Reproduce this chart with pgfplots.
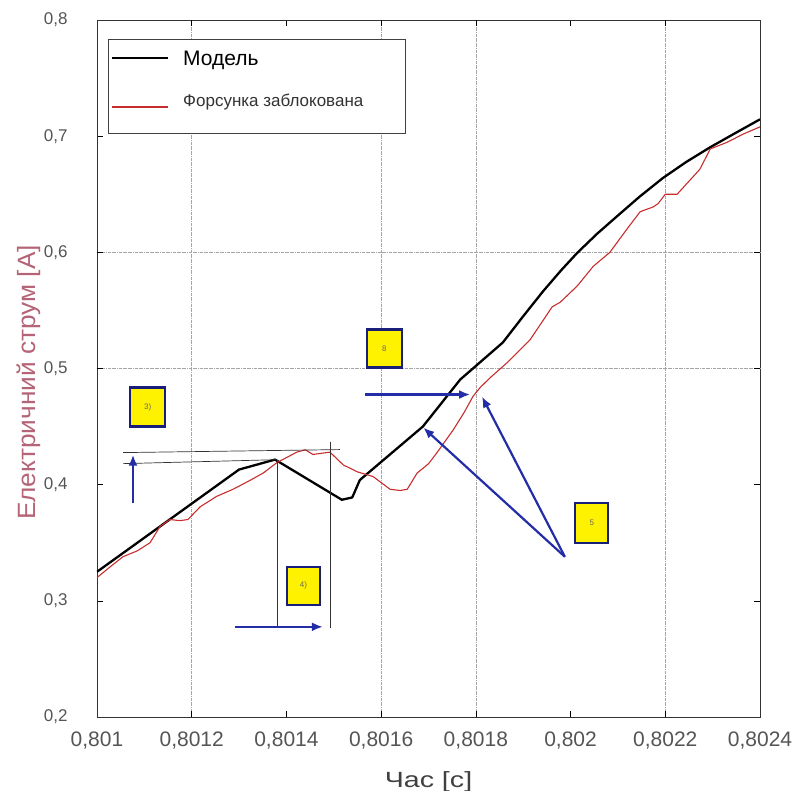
\documentclass[border=0pt]{standalone}
\usepackage{pgfplots}
\pgfplotsset{compat=1.18}
\usepackage{fontspec}
\setmainfont{Liberation Sans}
\newfontfamily\widefont[FakeStretch=1.3]{Liberation Sans}
\newfontfamily\ylabfont[FakeStretch=1.05]{Liberation Sans}
\usetikzlibrary{arrows.meta}
\definecolor{redline}{RGB}{200,45,45}
\definecolor{ylab}{RGB}{180,100,118}
\definecolor{ticklab}{RGB}{85,85,85}
\definecolor{navyarrow}{RGB}{35,45,165}
\definecolor{boxblue}{RGB}{25,30,120}
\begin{document}
\begin{tikzpicture}
\useasboundingbox (-97pt,-74pt) rectangle (695pt,717pt);
\begin{axis}[
  scale only axis,
  width=663pt, height=697pt,
  xmin=0.801, xmax=0.8024,
  ymin=0.2, ymax=0.8,
  xtick={0.801,0.8012,0.8014,0.8016,0.8018,0.802,0.8022,0.8024},
  xticklabels={{0,801},{0,8012},{0,8014},{0,8016},{0,8018},{0,802},{0,8022},{0,8024}},
  ytick={0.2,0.3,0.4,0.5,0.6,0.7,0.8},
  yticklabels={{0,2},{0,3},{0,4},{0,5},{0,6},{0,7},{0,8}},
  tick align=inside,
  major tick length=6pt,
  tick style={black, line width=0.6pt},
  axis line style={black!80, line width=0.9pt},
  xticklabel style={font=\fontsize{21}{24}\selectfont, text=ticklab, yshift=-11pt},
  yticklabel style={font=\fontsize{17}{20}\selectfont, text=ticklab, xshift=-26pt},
  extra x ticks={0.8012,0.8016,0.8018,0.8022},
  extra x tick labels={},
  extra x tick style={grid=major, major grid style={gray!70, densely dash dot, line width=0.7pt}},
  extra y ticks={0.5,0.6},
  extra y tick labels={},
  extra y tick style={grid=major, major grid style={gray!70, densely dash dot, line width=0.7pt}},
  xlabel={\widefont\fontsize{22}{26}\selectfont Час [с]},
  xlabel style={text=black!75, yshift=-16pt},
  ylabel={\ylabfont\fontsize{25}{30}\selectfont Електричний струм [А]},
  ylabel style={text=ylab, at={(ticklabel cs:0.48)}, yshift=-4pt},
]
\addplot[black, line width=2.3pt, line join=round] coordinates {
(0.801,0.325) (0.80130,0.413) (0.801376,0.4216) (0.801517,0.387) (0.801539,0.389)
(0.801555,0.404) (0.801688,0.450) (0.801767,0.4905) (0.801857,0.5224) (0.801900,0.5450)
(0.801942,0.5665) (0.801980,0.5845) (0.802014,0.5995) (0.802056,0.6160) (0.802098,0.6310)
(0.802146,0.6480) (0.802195,0.6640) (0.802245,0.6780) (0.802295,0.6905) (0.802345,0.7020)
(0.8024,0.7145)
};
\addplot[redline, line width=1.1pt, line join=round] coordinates {
(0.801,0.320) (0.801030,0.330) (0.801055,0.338) (0.801085,0.343) (0.801112,0.350)
(0.801133,0.364) (0.801154,0.370) (0.801175,0.369) (0.801192,0.370) (0.801218,0.381)
(0.801253,0.390) (0.801287,0.396) (0.801320,0.403) (0.801351,0.410) (0.801380,0.419)
(0.801422,0.428) (0.801440,0.430) (0.801456,0.426) (0.801492,0.428) (0.801520,0.417)
(0.801550,0.411) (0.801583,0.407) (0.801619,0.396) (0.801640,0.395) (0.801655,0.396)
(0.801676,0.410) (0.801700,0.418) (0.801718,0.4276) (0.801752,0.447) (0.801775,0.462)
(0.801794,0.476) (0.801809,0.4836) (0.801830,0.492) (0.801866,0.505) (0.801915,0.525)
(0.801961,0.553) (0.801978,0.557) (0.802014,0.571) (0.802048,0.588) (0.802083,0.600)
(0.802119,0.620) (0.802147,0.635) (0.802174,0.639) (0.802185,0.642) (0.802200,0.650)
(0.802225,0.650) (0.802273,0.6715) (0.802295,0.689) (0.802331,0.6948) (0.802364,0.7017)
(0.8024,0.708)
};
% legend
\draw[black!75, line width=0.9pt, fill=white] (rel axis cs:0.0166,0.8379) rectangle (rel axis cs:0.4646,0.9727);
\draw[black, line width=2.3pt] (rel axis cs:0.0226,0.9455) -- (rel axis cs:0.1071,0.9455);
\draw[redline, line width=1.6pt] (rel axis cs:0.0226,0.8752) -- (rel axis cs:0.1071,0.8752);
\node[anchor=west, inner sep=0pt, font=\fontsize{21}{24}\selectfont] at (rel axis cs:0.1297,0.9426) {Модель};
\node[anchor=west, inner sep=0pt, font=\fontsize{17}{20}\selectfont, text=black!80] at (rel axis cs:0.1297,0.8830) {Форсунка заблокована};
% thin annotation lines
\draw[black!80, line width=0.7pt] (0.801055,0.4181) -- (0.801380,0.4215);
\draw[black!80, line width=0.7pt] (0.801055,0.4276) -- (0.801513,0.4302);
\draw[black!80, line width=0.7pt] (0.801380,0.4215) -- (0.801380,0.2767);
\draw[black!80, line width=0.7pt] (0.801492,0.437) -- (0.801492,0.2767);
% blue arrows
\draw[navyarrow, line width=2.2pt, -{Latex[length=11pt,width=9pt]}] (0.801076,0.3845) -- (0.801076,0.4258);
\draw[navyarrow, line width=2.2pt, -{Latex[length=11pt,width=9pt]}] (0.801291,0.2776) -- (0.801477,0.2776);
\draw[navyarrow, line width=2.2pt, -{Latex[length=11pt,width=9pt]}] (0.801566,0.4776) -- (0.801788,0.4776);
\draw[navyarrow, line width=2.2pt, -{Latex[length=11pt,width=9pt]}] (0.801988,0.3379) -- (0.801689,0.4491);
\draw[navyarrow, line width=2.2pt, -{Latex[length=11pt,width=9pt]}] (0.801988,0.3379) -- (0.801813,0.4758);
% yellow boxes
\draw[boxblue, line width=2.2pt, fill=yellow] (0.801070,0.4500) rectangle (0.801144,0.4836);
\node[font=\fontsize{8}{9}\selectfont, text=black!60] at (0.801107,0.4668) {3)};
\draw[boxblue, line width=2.2pt, fill=yellow] (0.801401,0.2965) rectangle (0.801471,0.3293);
\node[font=\fontsize{8}{9}\selectfont, text=black!60] at (0.801436,0.3129) {4)};
\draw[boxblue, line width=2.2pt, fill=yellow] (0.801570,0.5009) rectangle (0.801644,0.5336);
\node[font=\fontsize{8}{9}\selectfont, text=black!60] at (0.801607,0.5172) {8};
\draw[boxblue, line width=2.2pt, fill=yellow] (0.802010,0.3500) rectangle (0.802079,0.3845);
\node[font=\fontsize{8}{9}\selectfont, text=black!60] at (0.802045,0.3672) {5};
\end{axis}
\end{tikzpicture}
\end{document}
